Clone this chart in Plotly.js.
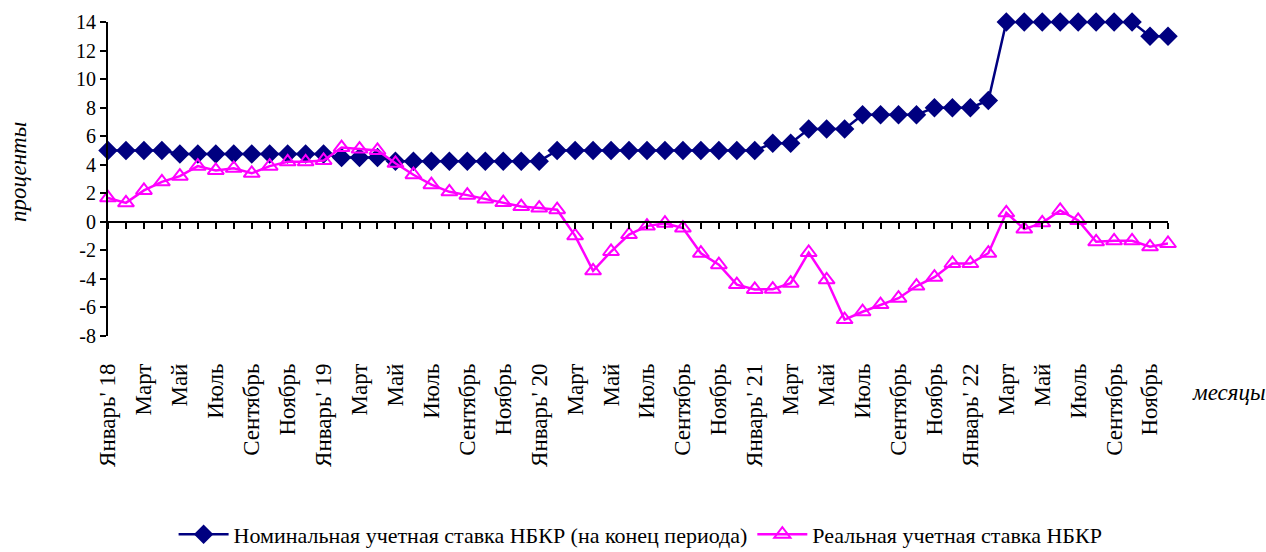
<!DOCTYPE html>
<html><head><meta charset="utf-8">
<script src="https://cdn.plot.ly/plotly-3.0.1.min.js"></script>
<style>body{margin:0;background:#fff}#chart{width:1266px;height:552px}</style>
</head><body><div id="chart"></div>
<script>
const months = ["Январь' 18","Февраль","Март","Апрель","Май","Июнь","Июль","Август","Сентябрь","Октябрь","Ноябрь","Декабрь",
"Январь' 19","Февраль","Март","Апрель","Май","Июнь","Июль","Август","Сентябрь","Октябрь","Ноябрь","Декабрь",
"Январь' 20","Февраль","Март","Апрель","Май","Июнь","Июль","Август","Сентябрь","Октябрь","Ноябрь","Декабрь",
"Январь' 21","Февраль","Март","Апрель","Май","Июнь","Июль","Август","Сентябрь","Октябрь","Ноябрь","Декабрь",
"Январь' 22","Февраль","Март","Апрель","Май","Июнь","Июль","Август","Сентябрь","Октябрь","Ноябрь","Декабрь"];
const nominal = [5,5,5,5,4.75,4.75,4.75,4.75,4.75,4.75,4.75,4.75,
4.75,4.5,4.5,4.5,4.25,4.25,4.25,4.25,4.25,4.25,4.25,4.25,
4.25,5,5,5,5,5,5,5,5,5,5,5,
5,5.5,5.5,6.5,6.5,6.5,7.5,7.5,7.5,7.5,8,8,
8,8.5,14,14,14,14,14,14,14,14,13,13];
const real = [1.68,1.33,2.2,2.8,3.2,3.9,3.6,3.75,3.4,3.9,4.2,4.2,
4.3,5.2,5.1,5.0,4.1,3.3,2.6,2.1,1.87,1.6,1.35,1.07,
0.96,0.85,-0.98,-3.43,-2.08,-0.89,-0.3,-0.1,-0.44,-2.2,-3.0,-4.4,
-4.74,-4.72,-4.3,-2.15,-4.06,-6.85,-6.3,-5.8,-5.35,-4.5,-3.88,-2.92,
-2.92,-2.2,0.63,-0.51,-0.07,0.8,0.1,-1.4,-1.33,-1.33,-1.75,-1.52];
const yTickVals = [-8,-6,-4,-2,0,2,4,6,8,10,12,14];
const yTickText = ["-8","-6","-4","-2","0","2","4","6","8","10","12","14"];
const nominalName = "Номинальная учетная ставка НБКР (на конец периода)";
const realName = "Реальная учетная ставка НБКР";
const yTitle = "проценты";
const xTitle = "месяцы";

const idx = months.map((_, i) => i);
const labelIdx = idx.filter(i => i % 2 === 0);
const labelText = labelIdx.map(i => months[i]);
const FONT = 'Liberation Serif';

const traces = [
  {x: idx, y: nominal, name: nominalName, type: 'scatter', mode: 'lines+markers',
   line: {color: '#000080', width: 2.5}, marker: {symbol: 'diamond', size: 15, color: '#000080'}, cliponaxis: false},
  {x: idx, y: real, name: realName, type: 'scatter', mode: 'lines+markers',
   line: {color: '#FF00FF', width: 2.5}, marker: {symbol: 'triangle-up-open', size: 14, color: '#FF00FF', line: {width: 2, color: '#FF00FF'}}, cliponaxis: false},
  {x: [0], y: [null], xaxis: 'x2', showlegend: false, hoverinfo: 'skip', mode: 'lines'}
];

const layout = {
  width: 1266, height: 552,
  margin: {l: 108, r: 98, t: 22, b: 216, autoexpand: false},
  paper_bgcolor: '#fff', plot_bgcolor: '#fff',
  font: {family: FONT, size: 20, color: '#000'},
  showlegend: true,
  legend: {orientation: 'h', x: 0.506, xanchor: 'center', xref: 'container', yref: 'container', y: 0.032, yanchor: 'middle',
    font: {family: FONT, size: 22, color: '#000'}, itemwidth: 50, tracegroupgap: 0},
  xaxis: {range: [0, 59], tickmode: 'array', tickvals: labelIdx, ticktext: labelText, tickangle: -90,
    showline: false, ticks: '', showgrid: false, zeroline: false, automargin: false, ticklabelstandoff: 22,
    tickfont: {family: FONT, size: 23, color: '#000'}},
  xaxis2: {range: [0, 59], overlaying: 'x', anchor: 'free', position: 8/22, showticklabels: false,
    showline: true, linecolor: '#000', linewidth: 2, ticks: 'outside', ticklen: 6, tickwidth: 2, tickcolor: '#000',
    dtick: 1, tick0: 0, showgrid: false, zeroline: false},
  yaxis: {range: [-8, 14], tickmode: 'array', tickvals: yTickVals, ticktext: yTickText, showline: true, linecolor: '#000', linewidth: 2, automargin: false,
    ticks: 'outside', ticklen: 6, tickwidth: 2, tickcolor: '#000', showgrid: false, zeroline: false,
    tickfont: {family: FONT, size: 20, color: '#000'}},
  annotations: [
    {text: '<i>' + yTitle + '</i>', xref: 'paper', yref: 'paper', x: -0.0849, y: 0.522, xanchor: 'center', yanchor: 'middle', textangle: -90, showarrow: false, font: {family: FONT, size: 23, color: '#000'}},
    {text: '<i>' + xTitle + '</i>', xref: 'paper', yref: 'paper', x: 1.0208, y: -0.18, xanchor: 'left', yanchor: 'middle', showarrow: false, font: {family: FONT, size: 23, color: '#000'}}
  ]
};
Plotly.newPlot('chart', traces, layout, {displayModeBar: false});
</script></body></html>
